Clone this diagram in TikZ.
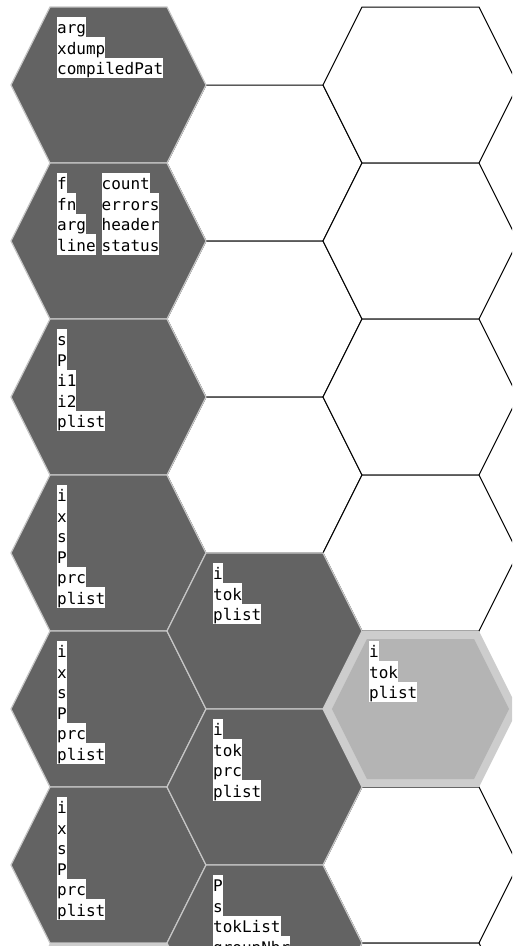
\documentclass[tikz,border=0pt]{standalone}
\usepackage{fontspec}
\setmonofont{DejaVu Sans Mono}
\definecolor{hexdark}{RGB}{99,99,99}
\definecolor{hexedge}{RGB}{196,196,196}
\definecolor{hexlight}{RGB}{180,180,180}
\definecolor{hexband}{RGB}{205,205,205}
\tikzset{
  hexwhite/.style={draw=black, fill=white, line width=1pt},
  hexdarkst/.style={fill=hexdark, draw=hexedge, line width=1.2pt},
  word/.style={anchor=north west, fill=white, inner sep=0pt, text height=17pt, text depth=3.5pt,
    font=\ttfamily\fontsize{16}{20}\selectfont, text=black},
}
\newcommand\hexshape[3]{%
  \path[#1, shift={(#2,#3)}] (-97.5,0) -- (-58.5,-78) -- (58.5,-78) -- (97.5,0) -- (58.5,78) -- (-58.5,78) -- cycle;}
\newcommand\hexlit[2]{%
  \path[fill=hexband, shift={(#1,#2)}] (-97.5,0) -- (-58.5,-78) -- (58.5,-78) -- (97.5,0) -- (58.5,78) -- (-58.5,78) -- cycle;
  \path[fill=hexlight, shift={(#1,#2)}] (-88.6,0) -- (-53.6,-70) -- (53.6,-70) -- (88.6,0) -- (53.6,70) -- (-53.6,70) -- cycle;}
\newcommand\wordcol[4]{%
  \foreach \w [count=\k from 0] in {#4} {\node[word] (#1-\k) at (#2,{#3+\k*20.5}) {\w};}}
\begin{document}
\begin{tikzpicture}[x=1pt,y=-1pt]
\useasboundingbox (0,0) rectangle (512,946);
\clip (0,0) rectangle (512,946);
% white hexes
\hexshape{hexwhite}{264.5}{163}
\hexshape{hexwhite}{264.5}{319}
\hexshape{hexwhite}{264.5}{475}
\hexshape{hexwhite}{420.5}{85}
\hexshape{hexwhite}{420.5}{241}
\hexshape{hexwhite}{420.5}{397}
\hexshape{hexwhite}{420.5}{553}
\hexshape{hexwhite}{420.5}{865}
\hexshape{hexwhite}{420.5}{1021}
% dark hexes
\hexshape{hexdarkst}{108.5}{85}
\hexshape{hexdarkst}{108.5}{241}
\hexshape{hexdarkst}{108.5}{397}
\hexshape{hexdarkst}{108.5}{553}
\hexshape{hexdarkst}{108.5}{709}
\hexshape{hexdarkst}{108.5}{865}
\hexshape{hexdarkst}{264.5}{631}
\hexshape{hexdarkst}{264.5}{787}
\hexshape{hexdarkst}{264.5}{943}
% highlighted hexes
\hexlit{420.5}{709}
\hexlit{108.5}{1021}
% texts
\wordcol{a}{57}{16.5}{arg,xdump,compiledPat}
\wordcol{b}{57}{172.5}{f,fn,arg,line}
\wordcol{bb}{101.5}{172.5}{count,errors,header,status}
\wordcol{c}{57}{328.5}{s,P,i1,i2,plist}
\wordcol{d}{57}{484.5}{i,x,s,P,prc,plist}
\wordcol{e}{57}{640.5}{i,x,s,P,prc,plist}
\wordcol{f}{57}{796.5}{i,x,s,P,prc,plist}
\wordcol{g}{213}{562.5}{i,tok,plist}
\wordcol{h}{213}{718.5}{i,tok,prc,plist}
\wordcol{j}{213}{874.5}{P,s,tokList,groupNbr}
\wordcol{k}{369}{640.5}{i,tok,plist}
\end{tikzpicture}
\end{document}
